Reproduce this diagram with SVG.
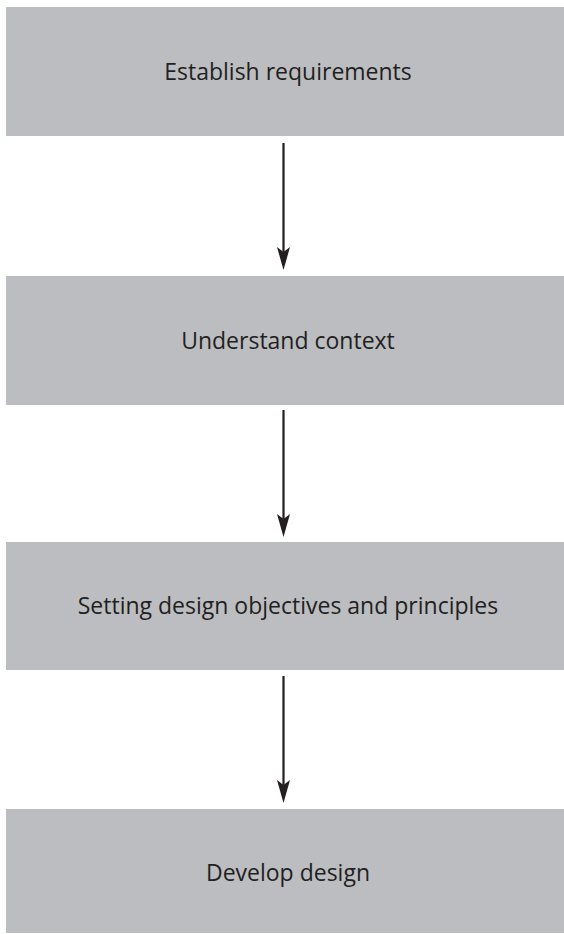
<svg xmlns="http://www.w3.org/2000/svg" width="564" height="934" viewBox="0 0 564 934">
<style>
.box{fill:#bcbdc0}
.lbl{font-family:"Open Sans","DejaVu Sans",sans-serif;font-size:23px;fill:#231f20;text-anchor:middle}
.conn{stroke:#231f20;stroke-width:2.2;fill:none}
.head{fill:#231f20}
</style>
<defs>
<path id="ah" d="M0,0 L-6.5,-23 L0,-18 L6.5,-23 Z"/>
</defs>
<rect width="564" height="934" fill="#ffffff"/>
<g id="n1"><rect class="box" x="6" y="7" width="558" height="129"/><text class="lbl" x="288" y="80">Establish requirements</text></g>
<g id="n2"><rect class="box" x="6" y="276" width="558" height="129"/><text class="lbl" x="288" y="349">Understand context</text></g>
<g id="n3"><rect class="box" x="6" y="542" width="558" height="128"/><text class="lbl" x="288" y="614">Setting design objectives and principles</text></g>
<g id="n4"><rect class="box" x="6" y="809" width="558" height="124"/><text class="lbl" x="288" y="881">Develop design</text></g>
<g id="connectors">
<line class="conn" x1="283.5" y1="143" x2="283.5" y2="252"/>
<use href="#ah" class="head" x="283.5" y="270"/>
<line class="conn" x1="283.5" y1="410" x2="283.5" y2="519"/>
<use href="#ah" class="head" x="283.5" y="537"/>
<line class="conn" x1="283.5" y1="676" x2="283.5" y2="785"/>
<use href="#ah" class="head" x="283.5" y="803"/>
</g>
</svg>
